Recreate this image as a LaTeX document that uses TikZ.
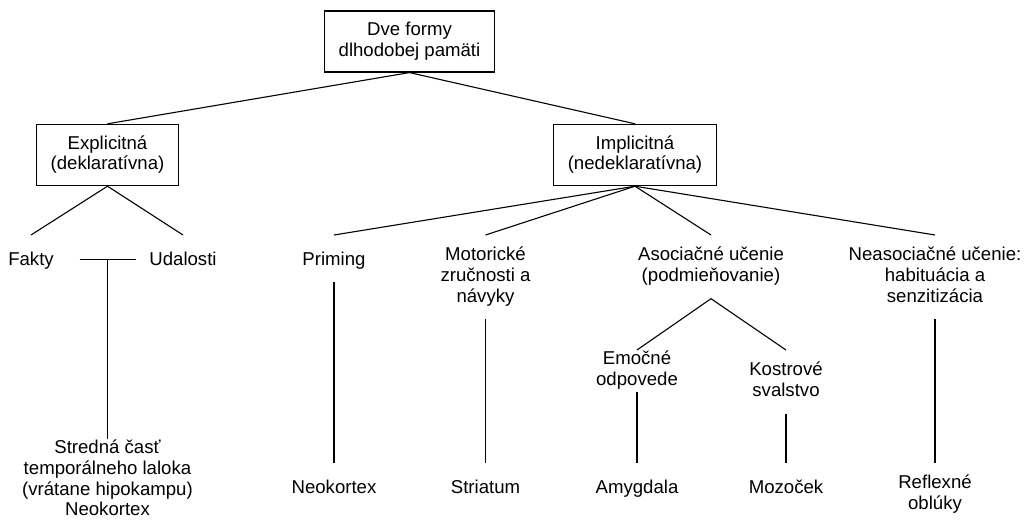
\documentclass[tikz,border=0pt]{standalone}
\usepackage{fontspec}
\setmainfont{Liberation Sans}
\usetikzlibrary{positioning}
\newcommand{\memfont}{\fontsize{18.6}{20.6}\selectfont\lineskiplimit=-100pt}
\tikzset{%
	block/.style = {draw, rectangle, line width=1.1pt, inner xsep=14pt, inner ysep=11pt, align=center}, % Box
	lbl/.style   = {rectangle, inner xsep=0pt, inner ysep=12pt, align=center}, % Plain text
	tight/.style = {inner ysep=1pt},
	link/.style  = {line width=1.1pt},
}
\begin{document}
\begin{tikzpicture}[x=1pt, y=-1pt, font=\memfont,
	execute at begin node={\rule{0pt}{18pt}},
	execute at end node={\rule[-5pt]{0pt}{5pt}}]
	\useasboundingbox (0,0) rectangle (1027,527);
	% boxes
	\node[block] (top) at (409.5,41.5) {Dve formy\\dlhodobej pamäti};
	\node[block] (expl) at (107.5,155) {Explicitná\\(deklaratívna)};
	\node[block] (impl) at (635,155) {Implicitná\\(nedeklaratívna)};
	% first level
	\node[lbl, anchor=north] (fakty) at (31,235) {Fakty};
	\node[lbl, anchor=north] (udal) at (183,235) {Udalosti};
	\node[lbl, anchor=north] (prim) at (334,235) {Priming};
	\node[lbl, anchor=north] (motor) at (485.5,235) {Motorické\\zručnosti a\\návyky};
	\node[lbl, anchor=north] (asoc) at (711,235) {Asociačné učenie\\(podmieňovanie)};
	\node[lbl, anchor=north] (neasoc) at (935,235) {Neasociačné učenie:\\habituácia a\\senzitizácia};
	% second level
	\node[lbl, tight, anchor=north] (emo) at (637,350) {Emočné\\odpovede};
	\node[lbl, anchor=north] (kostr) at (786,350) {Kostrové\\svalstvo};
	% brain areas
	\coordinate (join) at (107.5,259.3);
	\node[lbl, tight, anchor=north] (stred) at (107.5,439) {Stredná časť\\temporálneho laloka\\(vrátane hipokampu)\\Neokortex};
	\node[lbl, anchor=north] (neo) at (334,463) {Neokortex};
	\node[lbl, anchor=north] (stri) at (485.5,463) {Striatum};
	\node[lbl, anchor=north] (amyg) at (637,463) {Amygdala};
	\node[lbl, anchor=north] (mozo) at (786,463) {Mozoček};
	\node[lbl, anchor=north] (refl) at (935,463) {Reflexné\\oblúky};
	% connectors
	\draw[link] (top.south) -- (expl.north);
	\draw[link] (top.south) -- (impl.north);
	\draw[link] (expl.south) -- (fakty.north);
	\draw[link] (expl.south) -- (udal.north);
	\foreach \n in {prim,motor,asoc,neasoc}
		\draw[link] (impl.south) -- (\n.north);
	\draw[link] (asoc.south) -- (emo.north);
	\draw[link] (asoc.south) -- (kostr.north);
	\draw[link] ([xshift=-28pt]join) -- ([xshift=28pt]join);
	\draw[link] (join) -- (stred.north);
	\draw[link] (prim.south) -- (neo.north);
	\draw[link] (motor.south) -- (stri.north);
	\draw[link] (emo.south) -- (amyg.north);
	\draw[link] (kostr.south) -- (mozo.north);
	\draw[link] (neasoc.south) -- (refl.north);
\end{tikzpicture}
\end{document}
